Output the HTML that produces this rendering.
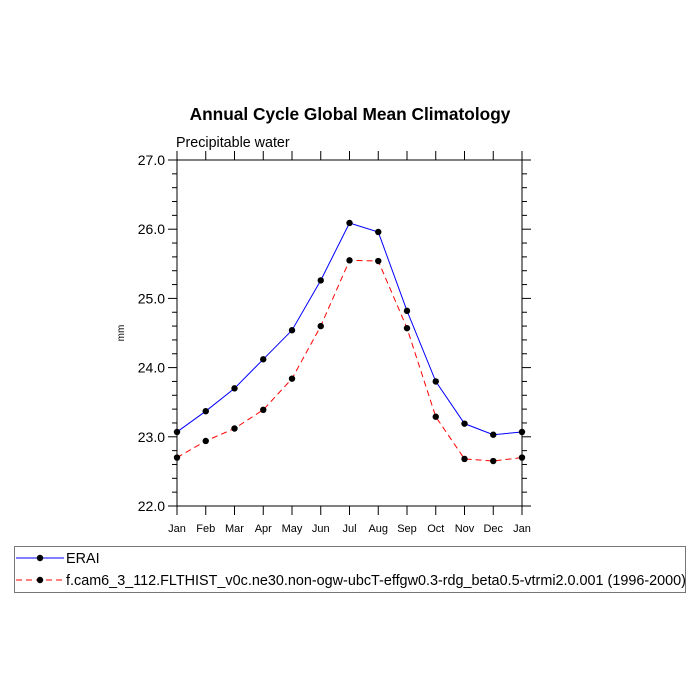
<!DOCTYPE html>
<html><head><meta charset="utf-8"><style>
html,body{margin:0;padding:0;background:#fff;}
svg{display:block;font-family:"Liberation Sans",sans-serif;}
</style></head><body>
<svg id="chart" width="700" height="700">
<text x="350" y="120" text-anchor="middle" font-size="17.3" font-weight="bold">Annual Cycle Global Mean Climatology</text>
<text x="176" y="147" font-size="14.3">Precipitable water</text>
<text x="124" y="333" font-size="10" text-anchor="middle" transform="rotate(-90 124 333)">mm</text>
<g id="axes"></g>
<g id="series"></g>
<rect x="14.5" y="546.5" width="671" height="46" fill="none" stroke="#777" stroke-width="1"/>
<g>
<line x1="16" y1="558" x2="64" y2="558" stroke="#00f" stroke-width="1"/>
<circle cx="40" cy="558" r="3.2" fill="#000"/>
<text x="66" y="563" font-size="14.4">ERAI</text>
</g>
<g>
<line x1="16" y1="580" x2="64" y2="580" stroke="#f00" stroke-width="1" stroke-dasharray="6,4"/>
<circle cx="40" cy="580" r="3.2" fill="#000"/>
<text x="66" y="585" font-size="14.4">f.cam6_3_112.FLTHIST_v0c.ne30.non-ogw-ubcT-effgw0.3-rdg_beta0.5-vtrmi2.0.001 (1996-2000)</text>
</g>
</svg>
<script>
const months = ["Jan","Feb","Mar","Apr","May","Jun","Jul","Aug","Sep","Oct","Nov","Dec","Jan"];
const eraiValues = [23.07,23.37,23.70,24.12,24.54,25.26,26.09,25.96,24.82,23.80,23.19,23.03,23.07];
const modelValues = [22.70,22.94,23.12,23.39,23.84,24.60,25.55,25.54,24.57,23.29,22.68,22.65,22.70];
const yTicks = ["22.0","23.0","24.0","25.0","26.0","27.0"];
const NS="http://www.w3.org/2000/svg";
const L=177,R=522,T=160,B=506,yMin=22,yMax=27;
function xs(i){return L+(R-L)*i/(months.length-1);}
function ys(v){return B-(v-yMin)/(yMax-yMin)*(B-T);}
function mk(tag,attrs,parent){const e=document.createElementNS(NS,tag);for(const k in attrs)e.setAttribute(k,attrs[k]);parent.appendChild(e);return e;}
const ax=document.getElementById('axes');
const frame=mk('rect',{x:L,y:T,width:R-L,height:B-T,fill:'none',stroke:'#000','stroke-width':1},ax);


for(let v=yMin;v<=yMax+1e-9;v+=0.2){
  const major=Math.abs(v-Math.round(v))<1e-6;const len=major?9:5;const y=ys(v);
  mk('line',{x1:L-len,y1:y,x2:L,y2:y,stroke:'#000','stroke-width':1},ax);
  mk('line',{x1:R,y1:y,x2:R+len,y2:y,stroke:'#000','stroke-width':1},ax);
}
yTicks.forEach(t=>{const e=mk('text',{x:L-12,y:ys(parseFloat(t))+5,'text-anchor':'end','font-size':14},ax);e.textContent=t;

});
months.forEach((m,i)=>{const x=xs(i);
  mk('line',{x1:x,y1:B,x2:x,y2:B+9,stroke:'#000','stroke-width':1},ax);
  mk('line',{x1:x,y1:T-9,x2:x,y2:T,stroke:'#000','stroke-width':1},ax);
  const e=mk('text',{x:x,y:B+26,'text-anchor':'middle','font-size':11},ax);e.textContent=m;
  
  });
const sg=document.getElementById('series');
function drawSeries(vals,color,dash,name){
  const pts=vals.map((v,i)=>xs(i)+','+ys(v)).join(' ');
  const pl=mk('polyline',{points:pts,fill:'none',stroke:color,'stroke-width':1},sg);
  if(dash)pl.setAttribute('stroke-dasharray',dash);
  
  
  vals.forEach((v,i)=>{const c=mk('circle',{cx:xs(i),cy:ys(v),r:3.2,fill:'#000'},sg);
    
    });
}
drawSeries(eraiValues,'#00f',null,'erai');
drawSeries(modelValues,'#f00','6,4','model');
</script>
</body></html>
